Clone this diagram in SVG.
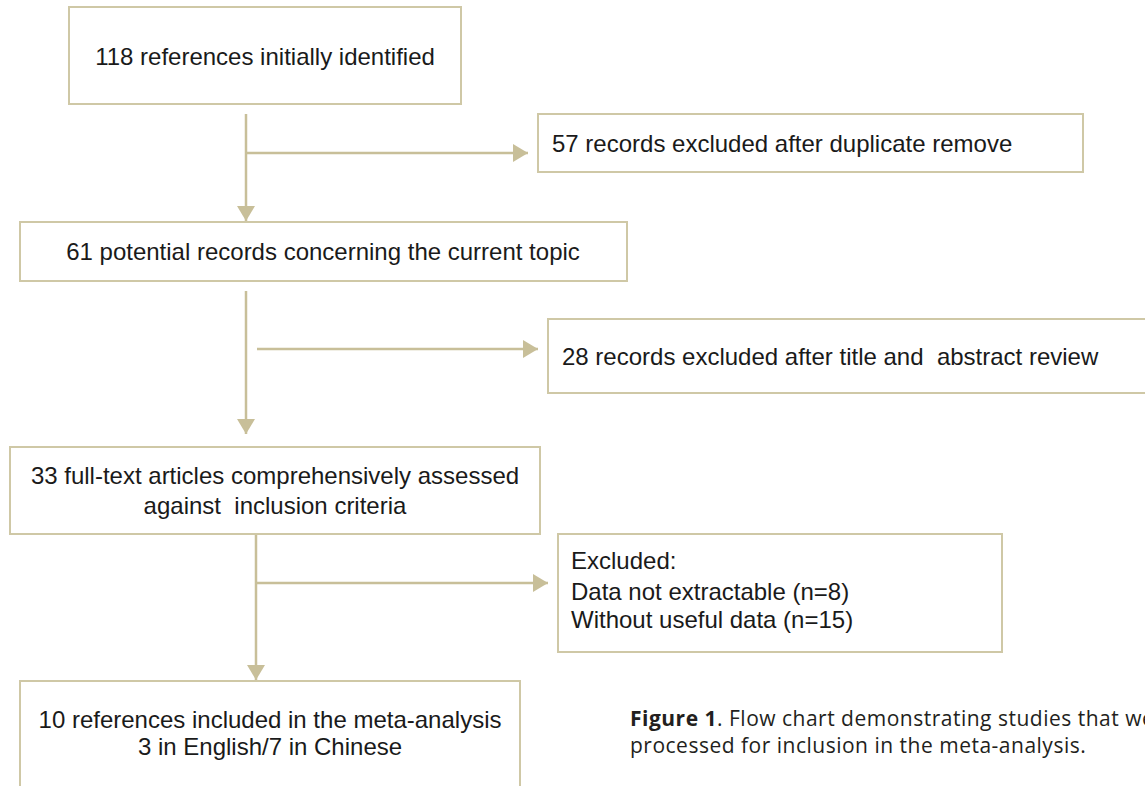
<svg xmlns="http://www.w3.org/2000/svg" width="1145" height="786" viewBox="0 0 1145 786">
<defs>
<style>
.box{fill:#ffffff;stroke:#cfc8a6;stroke-width:2}
.ln{fill:none;stroke:#c8bf99;stroke-width:2.5}
.t{font-family:"Liberation Sans",Arial,sans-serif;font-size:24px;fill:#1a1a1a;white-space:pre}
.c{text-anchor:middle}
.cap{font-family:"Open Sans","Noto Sans",sans-serif;font-size:21px;letter-spacing:0.5px;fill:#231f20}
</style>
<marker id="ah" markerUnits="userSpaceOnUse" markerWidth="16" markerHeight="18" refX="15" refY="9" orient="auto">
<polygon points="0,0 15,9 0,18" fill="#c8bf99"/>
</marker>
</defs>
<rect width="1145" height="786" fill="#ffffff"/>
<g id="connectors">
<line class="ln" x1="246" y1="114" x2="246" y2="221" marker-end="url(#ah)"/>
<line class="ln" x1="246" y1="153" x2="528" y2="153" marker-end="url(#ah)"/>
<line class="ln" x1="246" y1="291" x2="246" y2="434" marker-end="url(#ah)"/>
<line class="ln" x1="257" y1="349" x2="538" y2="349" marker-end="url(#ah)"/>
<line class="ln" x1="256" y1="534" x2="256" y2="680" marker-end="url(#ah)"/>
<line class="ln" x1="256" y1="583" x2="548" y2="583" marker-end="url(#ah)"/>
</g>
<g id="n1">
<rect class="box" x="69" y="7" width="392" height="97"/>
<text class="t c" x="265" y="65">118 references initially identified</text>
</g>
<g id="n2">
<rect class="box" x="538" y="114" width="545" height="58"/>
<text class="t" x="552" y="152">57 records excluded after duplicate remove</text>
</g>
<g id="n3">
<rect class="box" x="20" y="222" width="607" height="59"/>
<text class="t c" x="323" y="260">61 potential records concerning the current topic</text>
</g>
<g id="n4">
<rect class="box" x="548" y="319" width="610" height="74"/>
<text class="t" x="562" y="365" xml:space="preserve">28 records excluded after title and  abstract review</text>
</g>
<g id="n5">
<rect class="box" x="10" y="447" width="530" height="87"/>
<text class="t c" x="275" y="484">33 full-text articles comprehensively assessed</text>
<text class="t c" x="275" y="514" xml:space="preserve">against  inclusion criteria</text>
</g>
<g id="n6">
<rect class="box" x="558" y="534" width="444" height="118"/>
<text class="t" x="571" y="569">Excluded:</text>
<text class="t" x="571" y="600">Data not extractable (n=8)</text>
<text class="t" x="571" y="628">Without useful data (n=15)</text>
</g>
<g id="n7">
<rect class="box" x="20" y="681" width="500" height="120"/>
<text class="t c" x="270" y="728">10 references included in the meta-analysis</text>
<text class="t c" x="270" y="755">3 in English/7 in Chinese</text>
</g>
<g id="caption">
<text class="cap" x="630" y="726"><tspan font-weight="bold">Figure 1</tspan>. Flow chart demonstrating studies that were</text>
<text class="cap" x="630" y="753">processed for inclusion in the meta-analysis.</text>
</g>
</svg>
